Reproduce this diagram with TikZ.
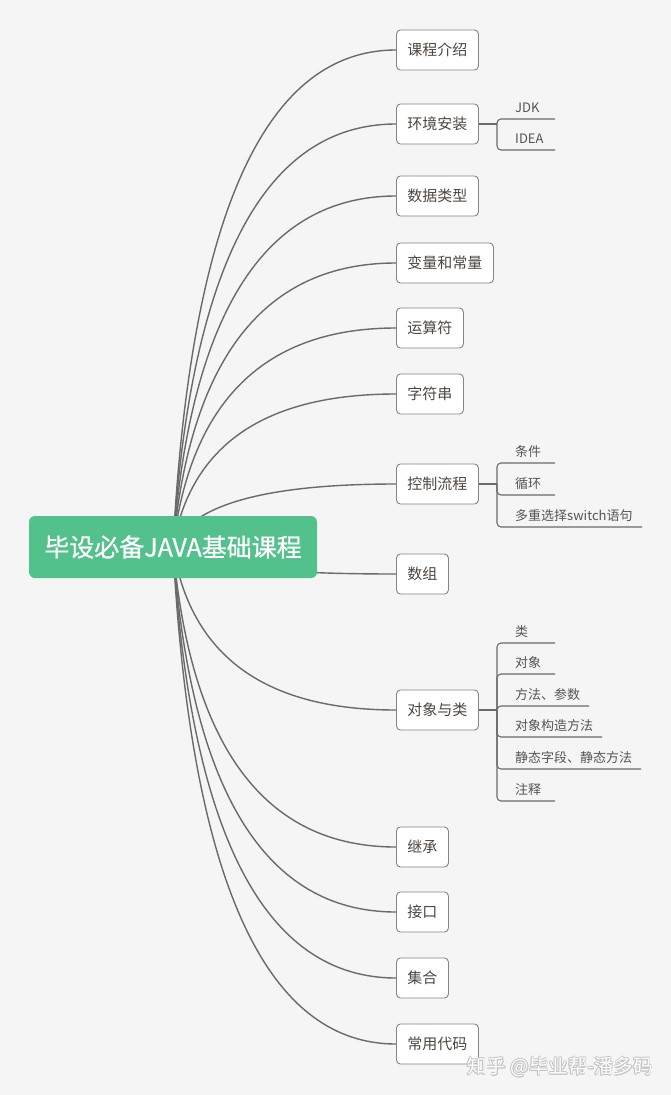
\documentclass[tikz,border=0pt]{standalone}
\usepackage{fontspec}
\setmainfont{Noto Sans CJK SC}
\newfontfamily\rootfont[FakeBold=0.6]{Noto Sans CJK SC}
\usetikzlibrary{calc}
\definecolor{bgc}{HTML}{F5F5F5}
\definecolor{rootgreen}{HTML}{52C18B}
\definecolor{linec}{HTML}{6A6A6A}
\definecolor{boxc}{HTML}{858585}
\definecolor{childtxt}{HTML}{4E463F}
\definecolor{subtxtc}{HTML}{555555}
\definecolor{wmgray}{HTML}{C4C4C4}
\pgfdeclarelayer{bg}
\pgfdeclarelayer{edges}
\pgfsetlayers{bg,edges,main}
\newcommand\branch[1]{%
  \draw[conn] (root.center) .. controls ($(root.center)!0.6667!(root.center |- #1.west)+(17.33,0)$) and ($(#1.west)!0.6667!(root.center |- #1.west)+(17.33,0)$) .. (#1.west);}
\newcommand\leaf[5]{%
  \node[subtxt] (#1) at (515,#3-7) {#5};
  \coordinate (#1r) at (#4,#3);
  \draw[subl] (#2) |- (#1r);}
\tikzset{
  rootbox/.style={fill=rootgreen, text=white, rounded corners=6pt, minimum width=288pt, minimum height=62pt, inner sep=0pt, font=\rootfont\fontsize{25}{25}\selectfont},
  childbox/.style={draw=boxc, fill=white, rounded corners=4pt, line width=0.9pt, minimum height=40pt, inner xsep=11pt, inner ysep=0pt, anchor=west, text=childtxt, font=\fontsize{15}{15}\selectfont},
  conn/.style={draw=linec, line width=1.4pt},
  subl/.style={draw=linec, line width=1.1pt, rounded corners=4pt},
  subtxt/.style={anchor=base west, inner sep=0pt, text=subtxtc, font=\fontsize{13}{13}\selectfont},
  wm/.style={inner sep=0pt, font=\fontsize{19.5}{19.5}\selectfont}
}
\begin{document}
\begin{tikzpicture}[x=1pt,y=-1pt]
\begin{pgfonlayer}{bg}
\fill[bgc] (0,0) rectangle (671,1095);
\end{pgfonlayer}
\useasboundingbox (0,0) rectangle (671,1095);

\node[rootbox] (root) at (173,547) {毕设必备JAVA基础课程};

\node[childbox] (c1) at (396,50) {课程介绍};
\node[childbox] (c2) at (396,124) {环境安装};
\node[childbox] (c3) at (396,196) {数据类型};
\node[childbox] (c4) at (396,263) {变量和常量};
\node[childbox] (c5) at (396,328) {运算符};
\node[childbox] (c6) at (396,394) {字符串};
\node[childbox] (c7) at (396,484) {控制流程};
\node[childbox] (c8) at (396,574) {数组};
\node[childbox] (c9) at (396,710) {对象与类};
\node[childbox] (c10) at (396,847) {继承};
\node[childbox] (c11) at (396,912) {接口};
\node[childbox] (c12) at (396,978) {集合};
\node[childbox] (c13) at (396,1044) {常用代码};

\begin{pgfonlayer}{edges}
\foreach \c in {c1,c2,c3,c4,c5,c6,c7,c8,c9,c10,c11,c12,c13}{\branch{\c}}
\end{pgfonlayer}

% 环境安装
\coordinate (j2) at (497,124);
\draw[conn] (c2.east) -- (j2);
\leaf{a1}{j2}{119}{555}{JDK}
\leaf{a2}{j2}{150}{555}{IDEA}

% 控制流程
\coordinate (j7) at (497,484);
\draw[conn] (c7.east) -- (j7);
\leaf{b1}{j7}{463}{555}{条件}
\leaf{b2}{j7}{495}{555}{循环}
\leaf{b3}{j7}{527}{642}{多重选择switch语句}

% 对象与类
\coordinate (j9) at (497,710);
\draw[conn] (c9.east) -- (j9);
\leaf{d1}{j9}{643}{555}{类}
\leaf{d2}{j9}{674}{555}{对象}
\leaf{d3}{j9}{706}{589}{方法、参数}
\leaf{d4}{j9}{737}{602}{对象构造方法}
\leaf{d5}{j9}{769}{641}{静态字段、静态方法}
\leaf{d6}{j9}{801}{555}{注释}

% watermark
\foreach \dx/\dy in {0.7/0,-0.7/0,0/0.7,0/-0.7,0.5/0.5,-0.5/0.5,0.5/-0.5,-0.5/-0.5}{
  \node[wm, text=wmgray] at (560+\dx,1067+\dy) {知乎 @毕业帮-潘多码};}
\node[wm, text=white] (wm) at (560,1067) {知乎 @毕业帮-潘多码};
\end{tikzpicture}
\end{document}
